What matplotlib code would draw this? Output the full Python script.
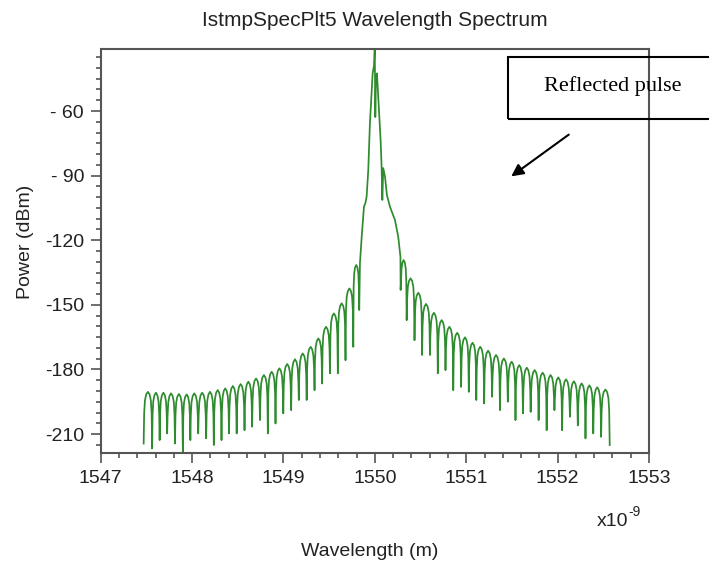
import matplotlib
matplotlib.use("Agg")
import matplotlib.pyplot as plt
from matplotlib.ticker import MultipleLocator
from matplotlib.patches import Rectangle, FancyArrowPatch

# -------------------------
# Data (wavelength in nm, power in dBm)
# -------------------------
# left side lobes: null positions / null depths, and lobe top levels
left_null_wl = [1547.470, 1547.563, 1547.645, 1547.727, 1547.813, 1547.899, 1547.981,
                1548.067, 1548.154, 1548.238, 1548.322, 1548.404, 1548.488, 1548.574,
                1548.657, 1548.743, 1548.829, 1548.913, 1548.998, 1549.084, 1549.168,
                1549.254, 1549.340, 1549.423, 1549.509, 1549.595, 1549.679, 1549.764,
                1549.829]
left_null_db = [-214.4, -216.7, -212.8, -209.7, -214.4, -218.2, -212.8, -209.7, -212.0,
                -215.1, -212.8, -209.7, -209.7, -208.2, -206.6, -203.5, -209.7, -205.1,
                -200.4, -198.9, -194.2, -194.2, -189.6, -186.5, -181.8, -181.8, -175.7,
                -169.5, -152.4]
left_peak_db = [-190.4, -190.8, -190.8, -191.1, -191.4, -191.6, -191.1, -190.8, -190.4,
                -189.6, -188.8, -187.7, -186.8, -185.7, -184.2, -182.6, -181.1, -179.5,
                -177.5, -175.3, -172.6, -169.5, -165.6, -160.2, -154.0, -149.3, -142.4,
                -131.5]

# main lobe
main_wl = [1549.837, 1549.856, 1549.881, 1549.897, 1549.910, 1549.928, 1549.946,
           1549.976, 1549.990, 1549.999, 1550.005, 1550.012, 1550.023, 1550.039,
           1550.063, 1550.074, 1550.082, 1550.092, 1550.111, 1550.132, 1550.165,
           1550.220, 1550.256, 1550.280]
main_db = [-130.7, -118.4, -104.4, -102.7, -99.8, -87.4, -65.7, -42.5, -39.1, -30.0,
           -62.8, -45.6, -42.5, -54.9, -73.5, -86.0, -101.3, -86.5, -90.5, -99.0,
           -104.4, -110.6, -118.4, -127.7]

# right side lobes
right_null_wl = [1550.282, 1550.348, 1550.434, 1550.517, 1550.603, 1550.689, 1550.773,
                 1550.858, 1550.944, 1551.028, 1551.110, 1551.196, 1551.283, 1551.369,
                 1551.455, 1551.539, 1551.621, 1551.705, 1551.792, 1551.880, 1551.965,
                 1552.049, 1552.135, 1552.221, 1552.305, 1552.390, 1552.476, 1552.570]
right_null_db = [-143.1, -157.1, -166.4, -173.3, -173.3, -181.8, -180.3, -189.6, -188.1,
                 -190.4, -194.2, -195.8, -192.7, -198.9, -195.0, -203.5, -200.4, -199.7,
                 -203.5, -208.2, -198.9, -208.2, -202.0, -206.0, -212.0, -209.7, -211.3,
                 -215.1]
right_peak_db = [-129.2, -137.7, -144.4, -149.6, -153.7, -157.1, -160.2, -163.0, -165.1,
                 -167.6, -169.5, -171.3, -173.3, -174.9, -176.4, -178.0, -179.2, -180.3,
                 -181.5, -182.6, -183.7, -184.6, -185.5, -186.5, -187.4, -188.3, -189.3]

x_ticks = [1547, 1548, 1549, 1550, 1551, 1552, 1553]
y_ticks = [-60, -90, -120, -150, -180, -210]
y_ticklabels = ["- 60", "- 90", "-120", "-150", "-180", "-210"]

# arch shape of one lobe between two nulls (fraction of lobe, dB below lobe top)
LOBE_F = [0.06, 0.15, 0.3, 0.5, 0.7, 0.85, 0.94]
LOBE_DB = [-10, -4, -1.2, 0, -1.2, -4, -10]


def lobes(null_wl, null_db, peak_db):
    xs, ys = [], []
    for i in range(len(peak_db)):
        a, b = null_wl[i], null_wl[i + 1]
        xs.append(a)
        ys.append(null_db[i])
        for f, d in zip(LOBE_F, LOBE_DB):
            xs.append(a + f * (b - a))
            ys.append(peak_db[i] + d)
    xs.append(null_wl[-1])
    ys.append(null_db[-1])
    return xs, ys


lx, ly = lobes(left_null_wl, left_null_db, left_peak_db)
rx, ry = lobes(right_null_wl, right_null_db, right_peak_db)
wl = lx + main_wl + rx
pw = ly + main_db + ry

# -------------------------
# Plot
# -------------------------
plt.rcParams['font.family'] = ['Liberation Sans', 'DejaVu Sans']
W, H = 709, 569
fig = plt.figure(figsize=(W / 100, H / 100), dpi=100)
ax = fig.add_axes([100.7 / W, 1 - 453 / H, (649 - 100.7) / W, (453 - 49) / H])

ax.plot(wl, pw, color='#2e8b2e', linewidth=1.25)

ax.set_xlim(1547, 1553)
ax.set_ylim(-218.8, -31.2)
ax.set_xticks(x_ticks)
ax.set_xticklabels([str(t) for t in x_ticks])
ax.set_yticks(y_ticks)
ax.set_yticklabels(y_ticklabels)
ax.xaxis.set_minor_locator(MultipleLocator(0.2))
ax.yaxis.set_minor_locator(MultipleLocator(5))
ax.tick_params(which='major', direction='out', length=7, width=1.2, color='#555555',
               labelsize=14, labelcolor='#222222', pad=5)
ax.tick_params(which='minor', direction='out', length=3.8, width=1.2, color='#555555')
for s in ax.spines.values():
    s.set_color('#555555')
    s.set_linewidth(1.5)

fig.text(375 / W, 1 - 20 / H, "IstmpSpecPlt5 Wavelength Spectrum", ha='center',
         va='center', fontsize=15, color='#222222')
fig.text(25 / W, 1 - 242 / H, "Power (dBm)", rotation=90, ha='center', va='center',
         fontsize=14, color='#222222')
fig.text(370 / W, 1 - 551 / H, "Wavelength (m)", ha='center', va='center',
         fontsize=14, color='#222222')
fig.text(628 / W, 1 - 522 / H, "x10", ha='right', va='center',
         fontsize=14, color='#222222')
fig.text(628 / W, 1 - 512 / H, "-9", ha='left', va='center',
         fontsize=10, color='#222222')

# annotation
fig.patches.append(Rectangle((508.3 / W, 1 - 119 / H), 220 / W, 61.7 / H,
                             transform=fig.transFigure, fill=False,
                             edgecolor='black', linewidth=1.5, zorder=5))
fig.text(613 / W, 1 - 86 / H, "Reflected pulse", ha='center', va='center',
         fontsize=16, family='Liberation Serif', color='black')
fig.patches.append(FancyArrowPatch((571 / W, 1 - 133 / H), (509 / W, 1 - 178 / H),
                                   transform=fig.transFigure, arrowstyle='-|>',
                                   mutation_scale=18, color='black', linewidth=1.5))

fig.savefig("out.png", dpi=100)
